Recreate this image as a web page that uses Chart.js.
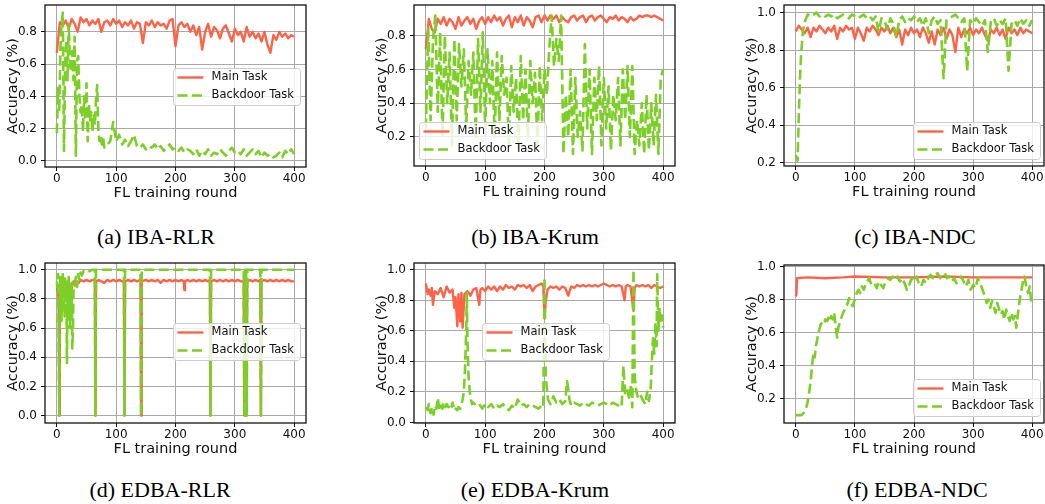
<!DOCTYPE html>
<html lang="en">
<head>
<meta charset="UTF-8">
<title>Main task vs backdoor task accuracy</title>
<script src="https://cdn.jsdelivr.net/npm/chart.js@4.4.1/dist/chart.umd.min.js"></script>
<style>
  body { margin: 0; background: #fff; width: 1045px; height: 504px; overflow: hidden; position: relative; }
  canvas { position: absolute; }
  .cap { position: absolute; width: 300px; text-align: center; font-family: "Liberation Serif", serif; font-size: 22px; line-height: 24px; color: #000; }
</style>
</head>
<body>
<canvas id="a"></canvas>
<canvas id="b"></canvas>
<canvas id="c"></canvas>
<canvas id="d"></canvas>
<canvas id="e"></canvas>
<canvas id="f"></canvas>
<div class="cap" style="left:6px;top:225px">(a) IBA-RLR</div>
<div class="cap" style="left:385px;top:225px">(b) IBA-Krum</div>
<div class="cap" style="left:765px;top:225px">(c) IBA-NDC</div>
<div class="cap" style="left:10px;top:478px">(d) EDBA-RLR</div>
<div class="cap" style="left:385px;top:478px">(e) EDBA-Krum</div>
<div class="cap" style="left:767px;top:478px">(f) EDBA-NDC</div>

<script>
// x positions (FL rounds) for the evenly sampled series
function span(a, b, step) { const r = []; for (let v = a; v <= b; v += step) r.push(v); return r; }

const xTicks = [0, 100, 200, 300, 400];
const seriesNames = ['Main Task', 'Backdoor Task'];

// (a) IBA-RLR
const aMainR = span(0, 400, 5);
const aMain = [0.67,0.86,0.84,0.87,0.82,0.88,0.85,0.80,0.89,0.86,
  0.88,0.84,0.87,0.85,0.88,0.80,0.86,0.87,0.84,0.88,
  0.85,0.87,0.83,0.86,0.84,0.87,0.82,0.86,0.85,0.73,
  0.86,0.84,0.87,0.83,0.86,0.84,0.85,0.82,0.87,0.88,
  0.71,0.84,0.86,0.83,0.85,0.80,0.84,0.78,0.83,0.69,
  0.80,0.85,0.77,0.83,0.81,0.76,0.82,0.84,0.79,0.74,
  0.82,0.78,0.80,0.74,0.83,0.77,0.80,0.76,0.79,0.74,
  0.80,0.72,0.67,0.78,0.75,0.80,0.77,0.79,0.76,0.78,
  0.77];
const aBackR = span(0, 80, 2).concat(span(85, 400, 5));
const aBack = [0.17,0.45,0.30,0.70,0.85,0.92,0.06,0.60,0.75,0.50,
  0.85,0.62,0.55,0.68,0.50,0.77,0.03,0.62,0.65,0.40,
  0.30,0.35,0.18,0.40,0.25,0.48,0.12,0.35,0.25,0.30,
  0.18,0.28,0.22,0.38,0.47,0.18,0.12,0.16,0.10,0.14,
  0.08,
  0.10,0.12,0.24,0.12,0.16,0.10,0.13,0.09,0.12,0.16,
  0.09,0.08,0.10,0.07,0.09,0.08,0.10,0.07,0.09,0.06,
  0.08,0.10,0.07,0.08,0.06,0.08,0.05,0.07,0.06,0.04,
  0.07,0.03,0.06,0.04,0.07,0.03,0.05,0.04,0.07,0.05,
  0.03,0.06,0.08,0.05,0.06,0.04,0.07,0.03,0.05,0.07,
  0.04,0.06,0.02,0.05,0.03,0.04,0.02,0.03,0.05,0.02,
  0.06,0.04,0.07,0.04];
const aYTicks = [0.0, 0.2, 0.4, 0.6, 0.8];

// (b) IBA-Krum
const bMainR = span(0, 400, 5);
const bMain = [0.72,0.90,0.84,0.82,0.90,0.87,0.91,0.86,0.90,0.88,
  0.84,0.91,0.86,0.89,0.91,0.87,0.90,0.84,0.89,0.91,
  0.87,0.91,0.88,0.92,0.89,0.91,0.86,0.90,0.92,0.85,
  0.91,0.88,0.92,0.86,0.91,0.89,0.85,0.91,0.92,0.88,
  0.92,0.89,0.92,0.90,0.92,0.88,0.91,0.89,0.88,0.91,
  0.92,0.89,0.91,0.92,0.88,0.91,0.92,0.89,0.91,0.92,
  0.90,0.88,0.91,0.90,0.92,0.89,0.91,0.90,0.88,0.91,
  0.89,0.90,0.92,0.91,0.92,0.92,0.91,0.92,0.91,0.90,
  0.89];
const bBackR = span(0, 400, 4);
const bBack = [0.25,0.85,0.30,0.78,0.92,0.35,0.82,0.20,0.80,0.40,
  0.70,0.15,0.78,0.30,0.75,0.50,0.72,0.25,0.65,0.45,
  0.70,0.20,0.78,0.35,0.82,0.25,0.72,0.40,0.65,0.20,
  0.70,0.30,0.68,0.45,0.55,0.15,0.62,0.35,0.55,0.12,
  0.68,0.30,0.60,0.20,0.65,0.40,0.58,0.15,0.62,0.30,
  0.60,0.45,0.72,0.92,0.62,0.78,0.65,0.92,0.10,0.45,
  0.20,0.60,0.10,0.55,0.20,0.35,0.12,0.75,0.25,0.60,
  0.10,0.55,0.30,0.62,0.15,0.55,0.25,0.50,0.12,0.45,
  0.30,0.55,0.15,0.60,0.30,0.62,0.20,0.62,0.10,0.30,
  0.15,0.40,0.10,0.45,0.12,0.40,0.15,0.45,0.10,0.55,
  0.60];
const bYTicks = [0.2, 0.4, 0.6, 0.8];

// (c) IBA-NDC
const cMainR = span(0, 400, 5);
const cMain = [0.90,0.93,0.91,0.89,0.92,0.87,0.92,0.90,0.93,0.91,
  0.89,0.92,0.90,0.93,0.86,0.92,0.90,0.93,0.91,0.92,
  0.86,0.92,0.89,0.85,0.92,0.90,0.93,0.91,0.88,0.92,
  0.90,0.93,0.89,0.92,0.87,0.91,0.83,0.91,0.88,0.92,
  0.89,0.91,0.87,0.92,0.89,0.84,0.90,0.83,0.91,0.88,
  0.92,0.86,0.91,0.88,0.79,0.92,0.87,0.91,0.89,0.92,
  0.88,0.91,0.89,0.92,0.88,0.85,0.91,0.89,0.92,0.88,
  0.91,0.86,0.92,0.89,0.91,0.88,0.92,0.89,0.91,0.90,
  0.89];
const cBackR = [0, 3, 5, 7, 9, 12].concat(span(15, 400, 5));
const cBack = [0.24,0.21,0.45,0.65,0.78,0.90,
  0.95,0.99,0.98,0.99,1.00,0.98,0.99,0.98,0.99,0.98,
  0.99,0.97,0.98,0.99,0.98,0.97,0.99,0.98,0.97,0.98,
  0.99,0.97,0.98,0.96,0.98,0.90,0.97,0.96,0.91,0.97,
  0.94,0.87,0.96,0.98,0.95,0.97,0.96,0.98,0.95,0.97,
  0.93,0.97,0.89,0.96,0.98,0.94,0.96,0.65,0.96,0.97,
  0.98,0.99,0.97,0.95,0.97,0.69,0.96,0.94,0.97,0.95,
  0.93,0.96,0.79,0.95,0.97,0.93,0.96,0.94,0.97,0.69,
  0.94,0.96,0.93,0.97,0.94,0.96,0.93,0.96];
const cYTicks = [0.2, 0.4, 0.6, 0.8, 1.0];

// (d) EDBA-RLR  [round, accuracy]
const dMain = [[0,0.88],[2,0.84],[3,0.80],[4,0.0],[5,0.78],[7,0.86],[10,0.90],[13,0.85],[16,0.91],[19,0.87],
  [22,0.90],[25,0.88],[28,0.92],[31,0.89],[34,0.92],[37,0.91],[40,0.93],[45,0.92],[50,0.93],[55,0.92],
  [60,0.93],[64,0.93],[65,0.0],[66,0.92],[70,0.93],[75,0.92],[80,0.91],[85,0.93],[90,0.92],[95,0.93],
  [100,0.92],[105,0.93],[110,0.92],[113,0.92],[114,0.0],[115,0.92],[120,0.93],[125,0.92],[130,0.93],[135,0.92],
  [141,0.93],[142,0.0],[143,0.92],[150,0.93],[155,0.92],[160,0.93],[165,0.92],[170,0.93],[175,0.91],[180,0.93],
  [185,0.92],[190,0.93],[195,0.92],[200,0.93],[205,0.92],[210,0.93],[214,0.92],[215,0.86],[216,0.92],[220,0.93],
  [225,0.92],[230,0.93],[235,0.92],[240,0.93],[245,0.92],[250,0.93],[255,0.92],[258,0.93],[259,0.0],[260,0.92],
  [265,0.93],[270,0.92],[275,0.93],[280,0.92],[285,0.93],[290,0.92],[295,0.93],[300,0.92],[305,0.93],[310,0.92],
  [315,0.92],[316,0.0],[317,0.92],[318,0.0],[319,0.92],[320,0.0],[321,0.92],[325,0.93],[330,0.92],[335,0.93],
  [340,0.92],[343,0.93],[344,0.0],[345,0.92],[350,0.93],[355,0.92],[360,0.93],[365,0.92],[370,0.93],[375,0.92],
  [380,0.93],[385,0.92],[390,0.93],[395,0.92],[400,0.92]];
const dBack = [[0,0.92],[1,0.88],[2,0.97],[3,0.60],[4,0.0],[5,0.70],[6,0.95],[7,0.85],[8,0.65],[9,0.92],
  [10,0.98],[11,0.75],[12,0.90],[13,0.68],[14,0.95],[15,0.80],[16,0.92],[17,0.36],[18,0.85],[19,0.72],
  [20,0.95],[21,0.78],[22,0.60],[23,0.88],[24,0.70],[25,0.92],[26,0.46],[27,0.55],[28,0.85],[30,0.90],
  [32,0.95],[34,0.88],[36,0.97],[38,0.93],[40,0.98],[42,0.96],[45,0.99],[50,0.98],[55,0.99],[60,1.0],
  [64,1.0],[65,0.0],[66,1.0],[113,1.0],[114,0.0],[115,1.0],[141,1.0],[142,0.0],[143,1.0],[258,1.0],
  [259,0.0],[260,1.0],[315,1.0],[316,0.0],[317,1.0],[318,0.0],[319,1.0],[320,0.0],[321,1.0],[343,1.0],
  [344,0.0],[345,1.0],[400,1.0]];
const dYTicks = [0.0, 0.2, 0.4, 0.6, 0.8, 1.0];

// (e) EDBA-Krum
const eMain = [[0,0.91],[3,0.84],[5,0.87],[8,0.83],[10,0.88],[12,0.77],[15,0.86],[20,0.84],[25,0.88],[30,0.82],
  [35,0.89],[40,0.85],[45,0.87],[48,0.75],[50,0.82],[53,0.63],[55,0.84],[58,0.66],[60,0.85],[62,0.62],
  [65,0.84],[70,0.86],[75,0.83],[80,0.87],[85,0.88],[90,0.77],[92,0.87],[95,0.88],[100,0.86],[105,0.89],
  [110,0.87],[115,0.89],[120,0.86],[125,0.89],[130,0.87],[135,0.90],[140,0.88],[145,0.89],[150,0.87],[155,0.90],
  [160,0.89],[165,0.90],[170,0.88],[175,0.90],[180,0.86],[185,0.89],[190,0.90],[195,0.91],[198,0.89],[200,0.68],
  [202,0.79],[205,0.87],[210,0.89],[215,0.88],[220,0.89],[225,0.87],[230,0.89],[235,0.88],[240,0.83],[245,0.89],
  [250,0.88],[255,0.90],[260,0.89],[265,0.90],[270,0.89],[275,0.90],[280,0.89],[285,0.90],[290,0.89],[295,0.90],
  [300,0.91],[305,0.90],[310,0.89],[315,0.90],[320,0.89],[325,0.90],[330,0.89],[335,0.80],[337,0.89],[340,0.90],
  [345,0.89],[350,0.73],[352,0.88],[355,0.90],[360,0.89],[365,0.90],[370,0.89],[375,0.90],[380,0.88],[385,0.90],
  [390,0.89],[395,0.88],[400,0.89]];
const eBack = [[0,0.10],[3,0.08],[5,0.12],[8,0.06],[10,0.10],[13,0.05],[15,0.11],[18,0.09],[20,0.16],[23,0.08],
  [25,0.11],[28,0.09],[30,0.13],[33,0.10],[35,0.12],[38,0.10],[40,0.11],[43,0.09],[45,0.13],[48,0.08],
  [50,0.09],[53,0.08],[55,0.10],[58,0.09],[60,0.12],[62,0.15],[64,0.20],[66,0.35],[68,0.60],[69,0.85],
  [70,0.55],[72,0.30],[74,0.20],[76,0.15],[78,0.12],[80,0.13],[85,0.11],[90,0.12],[95,0.09],[100,0.12],
  [105,0.10],[110,0.12],[115,0.09],[120,0.11],[125,0.10],[130,0.12],[135,0.09],[140,0.08],[145,0.11],[150,0.09],
  [155,0.15],[160,0.11],[165,0.12],[170,0.10],[175,0.12],[180,0.11],[185,0.10],[190,0.09],[195,0.11],[198,0.10],
  [200,0.95],[202,0.30],[204,0.22],[206,0.15],[210,0.12],[215,0.17],[220,0.13],[225,0.15],[230,0.12],[235,0.14],
  [238,0.27],[240,0.22],[242,0.15],[245,0.11],[250,0.13],[255,0.12],[260,0.11],[265,0.13],[270,0.12],[275,0.11],
  [280,0.13],[285,0.12],[290,0.11],[295,0.12],[300,0.13],[305,0.12],[310,0.11],[315,0.13],[320,0.12],[325,0.11],
  [330,0.10],[333,0.37],[336,0.18],[340,0.21],[343,0.15],[346,0.25],[348,0.10],[350,1.0],[352,0.30],[355,0.20],
  [358,0.16],[362,0.18],[365,0.15],[370,0.12],[373,0.20],[376,0.14],[379,0.22],[381,0.40],[383,0.55],[385,0.45],
  [387,0.65],[389,0.50],[390,0.97],[392,0.60],[394,0.75],[396,0.65],[398,0.70],[400,0.62]];
const eYTicks = [0.0, 0.2, 0.4, 0.6, 0.8, 1.0];

// (f) EDBA-NDC
const fMain = [[0,0.82],[1,0.83],[2,0.93],[20,0.935],[50,0.93],[80,0.935],[100,0.94],[150,0.935],
  [200,0.935],[250,0.94],[300,0.935],[350,0.935],[400,0.935]];
const fBack = [[0,0.10],[5,0.10],[10,0.10],[15,0.12],[18,0.15],[20,0.18],[23,0.25],[25,0.30],[27,0.38],[28,0.42],
  [30,0.48],[32,0.45],[34,0.52],[36,0.55],[38,0.60],[40,0.62],[42,0.65],[45,0.66],[48,0.65],[50,0.68],
  [53,0.67],[55,0.69],[58,0.67],[60,0.70],[63,0.68],[65,0.72],[67,0.65],[70,0.57],[72,0.63],[75,0.67],
  [78,0.70],[80,0.72],[84,0.75],[88,0.78],[90,0.81],[93,0.78],[96,0.76],[100,0.80],[103,0.84],[106,0.86],
  [109,0.84],[112,0.88],[115,0.86],[118,0.89],[121,0.91],[124,0.93],[127,0.90],[130,0.88],[134,0.89],[137,0.87],
  [140,0.91],[144,0.89],[148,0.87],[152,0.91],[156,0.93],[160,0.92],[164,0.94],[168,0.92],[172,0.94],[176,0.91],
  [180,0.93],[184,0.90],[188,0.86],[192,0.89],[196,0.93],[200,0.91],[204,0.94],[208,0.90],[212,0.88],[216,0.92],
  [220,0.90],[224,0.93],[228,0.95],[232,0.93],[236,0.95],[240,0.96],[244,0.93],[248,0.95],[252,0.96],[256,0.93],
  [260,0.94],[264,0.91],[268,0.93],[272,0.90],[276,0.92],[280,0.94],[284,0.91],[288,0.88],[292,0.92],[296,0.86],
  [300,0.89],[304,0.87],[308,0.93],[312,0.90],[316,0.86],[320,0.82],[323,0.78],[326,0.80],[329,0.75],[332,0.79],
  [335,0.76],[338,0.72],[341,0.78],[344,0.74],[347,0.71],[350,0.73],[353,0.68],[356,0.74],[359,0.70],[362,0.67],
  [365,0.72],[368,0.68],[371,0.70],[373,0.63],[376,0.72],[379,0.80],[382,0.86],[385,0.92],[387,0.94],[390,0.88],
  [393,0.84],[396,0.88],[398,0.80],[400,0.76]];
const fYTicks = [0.2, 0.4, 0.6, 0.8, 1.0];

// ---- drawing ----
const RED = '#ff6347', GREEN = '#7ccf24', INK = '#111111', GRID = '#a9a9a9';
const FONT = "'DejaVu Sans', sans-serif";
const AXIS_W = 45, AXIS_H = 43, PAD_TOP = 12, PAD_RIGHT = 3;

function zip(xs, ys) { return xs.map((x, i) => ({x: x, y: ys[i]})); }
function pts(pairs) { return pairs.map(p => ({x: p[0], y: p[1]})); }

const frameAndLegend = {
  id: 'frameAndLegend',
  afterDraw(chart, args, opts) {
    const ctx = chart.ctx, ca = chart.chartArea;
    ctx.save();
    ctx.strokeStyle = INK;
    ctx.lineWidth = 1.3;
    ctx.strokeRect(ca.left, ca.top, ca.right - ca.left, ca.bottom - ca.top);

    const x = Math.round(ca.left + opts.at[0]) + 0.5, y = Math.round(ca.top + opts.at[1]) + 0.5;
    const w = 127, h = 37;
    ctx.beginPath();
    ctx.roundRect(x, y, w, h, 3);
    ctx.fillStyle = 'rgba(255,255,255,0.8)';
    ctx.fill();
    ctx.strokeStyle = '#cccccc';
    ctx.lineWidth = 1;
    ctx.stroke();

    const rows = [
      {label: seriesNames[0], color: RED, width: 2.4, dash: []},
      {label: seriesNames[1], color: GREEN, width: 2.6, dash: [10, 4.5]}
    ];
    ctx.font = '11.5px ' + FONT;
    ctx.textBaseline = 'middle';
    rows.forEach((r, i) => {
      const ry = y + 9 + i * 18;
      ctx.beginPath();
      ctx.setLineDash(r.dash);
      ctx.strokeStyle = r.color;
      ctx.lineWidth = r.width;
      ctx.moveTo(x + 4, ry);
      ctx.lineTo(x + 30, ry);
      ctx.stroke();
      ctx.setLineDash([]);
      ctx.fillStyle = INK;
      ctx.fillText(r.label, x + 38, ry);
    });
    ctx.restore();
  }
};

function panel(id, box, yRange, yTicks, main, back, legendAt) {
  const cv = document.getElementById(id);
  const left = box.L - AXIS_W, top = box.T - PAD_TOP;
  cv.width = box.R + PAD_RIGHT - left;
  cv.height = box.B + AXIS_H - top;
  cv.style.left = left + 'px';
  cv.style.top = top + 'px';

  new Chart(cv, {
    type: 'line',
    data: {
      datasets: [
        {label: seriesNames[0], data: main, borderColor: RED, borderWidth: 2.4, order: 1},
        {label: seriesNames[1], data: back, borderColor: GREEN, borderWidth: 2.6, borderDash: [10, 4.5], order: 0}
      ]
    },
    options: {
      responsive: false,
      animation: false,
      events: [],
      elements: {
        point: {radius: 0},
        line: {tension: 0, fill: false, borderJoinStyle: 'round'}
      },
      layout: {padding: {top: PAD_TOP, right: PAD_RIGHT, left: 0, bottom: 0}},
      plugins: {
        legend: {display: false},
        tooltip: {enabled: false},
        frameAndLegend: {at: legendAt}
      },
      scales: {
        x: {
          type: 'linear', min: -20, max: 420,
          afterBuildTicks: s => { s.ticks = xTicks.map(v => ({value: v})); },
          afterFit: s => { s.height = AXIS_H; },
          border: {display: false},
          grid: {color: GRID, lineWidth: 1, tickColor: INK, tickLength: 4},
          ticks: {color: INK, font: {family: FONT, size: 12}, padding: 1, maxRotation: 0, autoSkip: false},
          title: {display: true, text: 'FL training round', color: INK,
                  font: {family: FONT, size: 14.5}, padding: {top: 0, bottom: 8}}
        },
        y: {
          type: 'linear', min: yRange[0], max: yRange[1],
          afterBuildTicks: s => { s.ticks = yTicks.map(v => ({value: v})); },
          afterFit: s => { s.width = AXIS_W; },
          border: {display: false},
          grid: {color: GRID, lineWidth: 1, tickColor: INK, tickLength: 4},
          ticks: {color: INK, font: {family: FONT, size: 12}, padding: 4, autoSkip: false,
                  callback: v => Number(v).toFixed(1)},
          title: {display: true, text: 'Accuracy (%)', color: INK,
                  font: {family: FONT, size: 14.5}, padding: {top: 4.5, bottom: 0}}
        }
      }
    },
    plugins: [frameAndLegend]
  });
}

panel('a', {L: 45, T: 5, R: 306, B: 167}, [-0.04, 0.967], aYTicks,
      zip(aMainR, aMain), zip(aBackR, aBack), [128, 63]);
panel('b', {L: 414, T: 5, R: 675, B: 166}, [0.028, 0.982], bYTicks,
      zip(bMainR, bMain), zip(bBackR, bBack), [5, 117]);
panel('c', {L: 784, T: 5, R: 1044, B: 166}, [0.182, 1.041], cYTicks,
      zip(cMainR, cMain), zip(cBackR, cBack), [129, 117]);
panel('d', {L: 45, T: 263, R: 306, B: 423}, [-0.051, 1.046], dYTicks,
      pts(dMain), pts(dBack), [128, 60]);
panel('e', {L: 414, T: 263, R: 675, B: 423}, [-0.004, 1.044], eYTicks,
      pts(eMain), pts(eBack), [68, 60]);
panel('f', {L: 784, T: 265, R: 1044, B: 423}, [0.052, 1.010], fYTicks,
      pts(fMain), pts(fBack), [129, 114]);
</script>
</body>
</html>
